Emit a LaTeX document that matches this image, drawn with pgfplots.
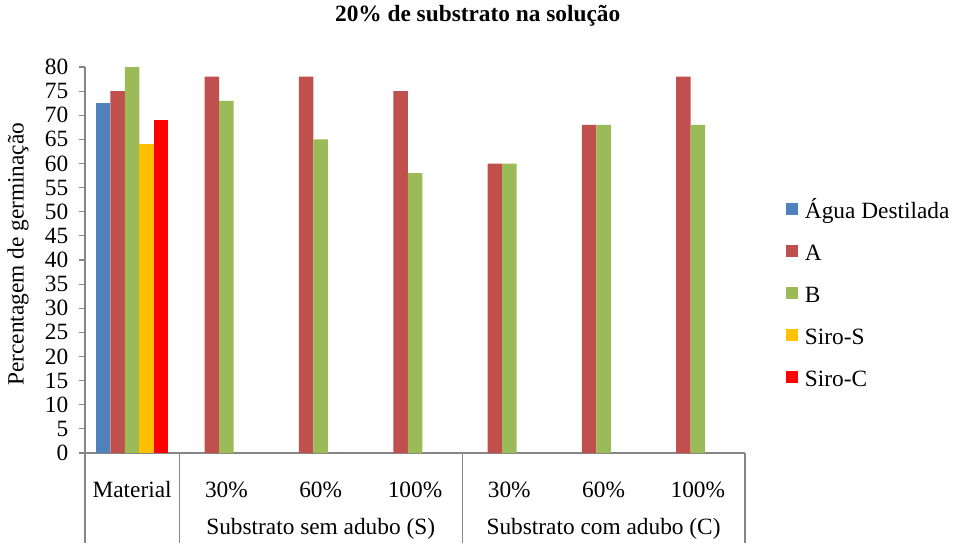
\documentclass[border=0pt]{standalone}
\usepackage{pgfplots}
\pgfplotsset{compat=1.18}
\usepackage{fontspec}
\setmainfont{Liberation Serif}
\definecolor{cAgua}{HTML}{4F81BD}
\definecolor{cA}{HTML}{C0504D}
\definecolor{cB}{HTML}{9BBB59}
\definecolor{cSS}{HTML}{FFC000}
\definecolor{cSC}{HTML}{FF0000}
\definecolor{axgray}{HTML}{868686}
\begin{document}
\fontsize{17.5}{21}\selectfont
\begin{tikzpicture}
\useasboundingbox (-63.75pt,-67.5pt) rectangle (652.5pt,339.75pt);
\begin{axis}[
  at={(0,0)}, anchor=south west,
  scale only axis, width=495pt, height=289.5pt,
  clip=false,
  ymin=0, ymax=80, ytick={0,5,...,80},
  xmin=-0.5, xmax=6.5,
  xtick={0,...,6},
  xticklabels={Material,30\%,60\%,100\%,30\%,60\%,100\%},
  xtick style={draw=none},
  xticklabel style={anchor=base, yshift=-28.5pt},
  yticklabel style={xshift=-2pt},
  ytick style={draw=axgray, line width=0.8pt},
  tick align=outside, major tick length=4.5pt,
  axis lines*=left,
  axis line style={draw=axgray, line width=0.8pt},
  /pgf/number format/assume math mode=true,
  tick label style={font=\fontsize{17.5}{21}\selectfont},
  label style={font=\fontsize{17.5}{21}\selectfont},
  ylabel={Percentagem de germinação},
  every axis y label/.style={at={(axis description cs:-0.1015,0.515)}, rotate=90, anchor=center},
  title={\textbf{20\% de substrato na solução}},
  title style={at={(axis description cs:0.595,1)}, anchor=base, yshift=28.5pt, font=\fontsize{17.5}{21}\selectfont},
  ybar=0pt, bar width=10.875pt,
  legend cell align=left,
  legend image code/.code={\fill[#1] (0pt,-1pt) rectangle (9pt,8pt);},
  legend style={draw=none, fill=none, at={(1.0621,0.6494)}, anchor=north west,
    inner sep=0pt, row sep=15.5pt, column sep=5pt,
    nodes={inner sep=0pt, text height=12pt, text depth=4pt},
    font=\fontsize{17.5}{21}\selectfont},
]
\addplot[fill=cAgua, draw=none] coordinates {(0,72.5)};
\addplot[fill=cA, draw=none] coordinates {(0,75) (1,78) (2,78) (3,75) (4,60) (5,68) (6,78)};
\addplot[fill=cB, draw=none] coordinates {(0,80) (1,73) (2,65) (3,58) (4,60) (5,68) (6,68)};
\addplot[fill=cSS, draw=none] coordinates {(0,64)};
\addplot[fill=cSC, draw=none] coordinates {(0,69)};
\legend{Água Destilada, A, B, Siro-S, Siro-C}
\draw[axgray, line width=0.8pt] (axis cs:-0.5,0) -- ++(0pt,-67.5pt);
\draw[axgray, line width=0.8pt] (axis cs:0.5,0) -- ++(0pt,-67.5pt);
\draw[axgray, line width=0.8pt] (axis cs:3.5,0) -- ++(0pt,-67.5pt);
\draw[axgray, line width=0.8pt] (axis cs:6.5,0) -- ++(0pt,-67.5pt);
\node[anchor=base, yshift=-60.75pt] at (axis cs:2,0) {Substrato sem adubo (S)};
\node[anchor=base, yshift=-60.75pt] at (axis cs:5,0) {Substrato com adubo (C)};
\end{axis}
\end{tikzpicture}
\end{document}
